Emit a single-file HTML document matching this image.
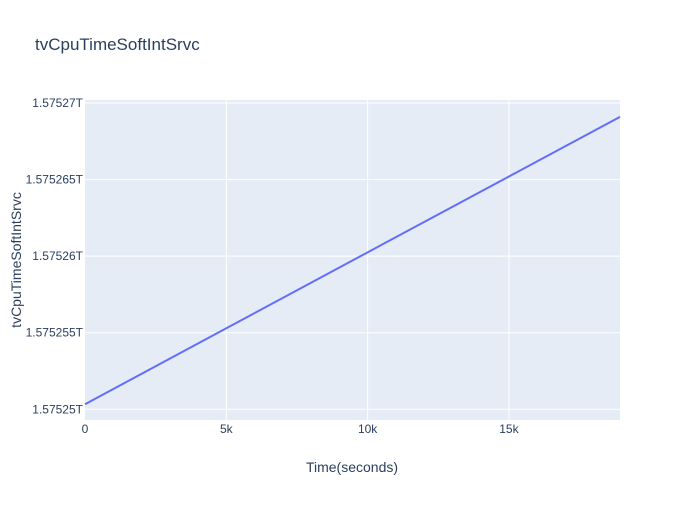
<!DOCTYPE html>
<html><head><meta charset="utf-8"><style>
body{margin:0;background:#fff;}
svg{font-family:"Liberation Sans",Arial,sans-serif;}
</style></head><body>
<svg id="chart" width="700" height="500">
<rect width="700" height="500" fill="#fff"/>
<text x="35" y="50" font-size="17" fill="#2a3f5f">tvCpuTimeSoftIntSrvc</text>
<rect x="85" y="100" width="535" height="320" fill="#e5ecf6"/>
<g id="grid"></g>
<g id="ticks"></g>
<g id="series"></g>
<text x="352" y="472" font-size="14" fill="#2a3f5f" text-anchor="middle">Time(seconds)</text>
<text transform="translate(21,260) rotate(-90)" font-size="14" fill="#2a3f5f" text-anchor="middle">tvCpuTimeSoftIntSrvc</text>
</svg>
<script>
const times = [0, 5000, 10000, 15000, 18930];
const values = [1.57525033e12, 1.57525529e12, 1.57526025e12, 1.5752652e12, 1.5752691e12];
const xTicks = [0, 5000, 10000, 15000];
const xTickLabels = ["0", "5k", "10k", "15k"];
const yTicks = [1.57525e12, 1.575255e12, 1.57526e12, 1.575265e12, 1.57527e12];
const yTickLabels = ["1.57525T", "1.575255T", "1.57526T", "1.575265T", "1.57527T"];
const xMin = 0, xMax = 18930, yMin = 1.5752493e12, yMax = 1.5752702e12;
const L = 85, R = 620, T = 100, B = 420;
const NS = "http://www.w3.org/2000/svg";
function xs(v){return L + (v - xMin) / (xMax - xMin) * (R - L);}
function ys(v){return B - (v - yMin) / (yMax - yMin) * (B - T);}
function mk(tag, attrs, parent){const e=document.createElementNS(NS,tag);for(const k in attrs)e.setAttribute(k,attrs[k]);parent.appendChild(e);return e;}
const grid=document.getElementById('grid'), ticks=document.getElementById('ticks'), series=document.getElementById('series');
xTicks.forEach((t,i)=>{
  const x=xs(t);
  if(i>0){const g=mk('line',{x1:x,x2:x,y1:T,y2:B,stroke:'#fff','stroke-width':1},grid);
  
  }
  const tx=mk('text',{x:x,y:B+13,'font-size':12,fill:'#2a3f5f','text-anchor':'middle'},ticks);
  tx.textContent=xTickLabels[i];
  
  
});
yTicks.forEach((t,i)=>{
  const y=ys(t);
  const g=mk('line',{x1:L,x2:R,y1:y,y2:y,stroke:'#fff','stroke-width':1},grid);
  
  
  const tx=mk('text',{x:L-2,y:y+4,'font-size':12,fill:'#2a3f5f','text-anchor':'end'},ticks);
  tx.textContent=yTickLabels[i];
  
  
});
const pts=times.map((t,i)=>xs(t)+','+ys(values[i])).join(' ');
const line=mk('polyline',{points:pts,fill:'none',stroke:'#636efa','stroke-width':2},series);


</script>
</body></html>
